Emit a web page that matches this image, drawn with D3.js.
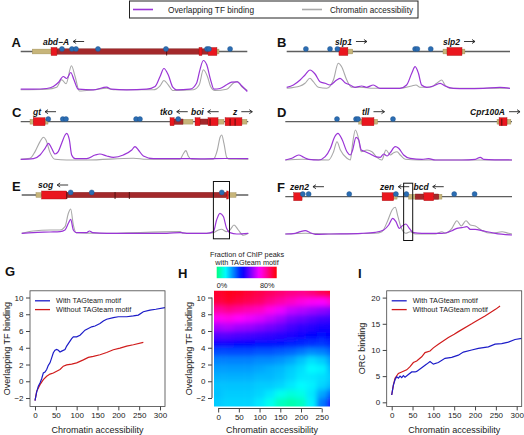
<!DOCTYPE html>
<html><head><meta charset="utf-8">
<script src="https://cdn.jsdelivr.net/npm/d3@7"></script>
<style>
body{margin:0;background:#fff}
svg{display:block;font-family:"Liberation Sans",Arial,Helvetica,sans-serif}
</style></head><body>
<svg id="c" width="524" height="435"></svg>
<script>
// ---------------- DATA ----------------
const legendLabels = ["Overlapping TF binding", "Chromatin accessibility"];

// Panel A (abd-A)
const aGenes = [["utr",5.1,13.7],["intron",16.0,82.7],["exon",13.4,16.0],["exon",78.7,80.0],["exon",82.7,86.6],["utr",86.6,87.5]];
const aTicks = [64.4];
const aSites = [18.2,22.6,24.4,34.1,64.1,82.2,83.1,92.4];
const aNames = [["abd\u2212A",9.8,-1]];
const aTF = [[0,1.3],[5.6,1.3],[11.5,2.0],[14.4,4.0],[16.6,8.0],[18.8,14.0],[20.3,12.0],[22.1,18.0],[23.5,10.7],[25.4,1.3],[32.1,0.7],[37.9,3.3],[40.1,1.3],[46.8,0.7],[55.6,1.3],[59.3,4.0],[61.5,14.0],[63.2,22.0],[65.1,15.7],[67.1,3.3],[68.8,0.7],[74.7,1.3],[77.6,7.3],[79.1,20.7],[80.6,30.0],[82.1,25.7],[83.8,10.7],[85.3,1.3],[87.9,2.0],[90.9,5.7],[93.1,8.3],[95.6,8.7],[97.5,4.7],[100,-1.0]];
const aAcc = [[0,0.7],[11.5,1.3],[15.9,3.3],[18.1,10.7],[20.0,6.7],[22.4,24.7],[24.0,14.0],[25.9,-0.5],[32.1,0.7],[37.9,2.3],[40.9,0.7],[58.5,0.7],[61.5,4.7],[63.2,10.0],[65.1,5.7],[67.1,0],[76.2,0.7],[78.8,5.7],[80.6,20.7],[82.4,14.0],[83.8,4.0],[85.7,0],[90.9,1.3],[93.8,7.3],[95.6,9.0],[97.5,4.0],[100,0]];

// Panel B (slp1, slp2)
const bGenes = [["exon",23.4,27.4],["utr",27.4,29.6],["utr",70.0,71.8],["exon",71.8,78.5],["utr",78.5,79.8]];
const bTicks = [];
const bSites = [8.6,19.4,22.7,57.5,58.5,64.5];
const bNames = [["slp1",21.6,1],["slp2",70.0,1]];
const bTF = [[0,2.7],[3.0,5.0],[6.0,10.0],[8.2,15.0],[10.4,20.0],[12.7,16.0],[14.9,8.3],[17.2,6.7],[19.4,5.0],[22.4,10.0],[23.9,11.7],[26.1,7.3],[28.4,5.0],[30.6,2.7],[33.6,4.0],[35.8,2.7],[38.8,5.0],[41.8,1.7],[50.7,1.7],[53.7,5.0],[56.0,16.7],[57.5,23.3],[59.0,16.7],[60.4,5.0],[62.7,2.7],[65.7,4.0],[68.7,6.7],[70.9,4.0],[74.6,1.7],[80.6,1.3],[88.1,1.7],[95.5,2.7],[100,1.7]];
const bAcc = [[0,1.7],[6.0,4.0],[8.2,6.7],[10.4,11.7],[11.9,8.3],[14.2,2.7],[17.9,1.7],[20.9,10.0],[23.1,26.7],[24.6,23.3],[26.9,10.0],[29.1,2.7],[32.8,2.7],[38.8,1.7],[50.7,1.7],[56.0,4.0],[57.9,5.0],[59.7,2.7],[64.2,2.7],[67.2,6.7],[69.4,10.0],[70.9,5.0],[73.1,1.7],[100,1.7]];

// Panel C (gt, tko, boi, z)
const cGenes = [["utr",4.1,5.5],["exon",5.5,10.7],["utr",10.7,12.0],["exon",65.6,67.4],["intron",67.4,71.3],["utr",71.3,75.7],["exon",76.6,78.8],["intron",78.8,82.3],["exon",82.3,86.7],["utr",86.7,89.3],["exon",89.8,97.2],["utr",97.2,99.4]];
const cTicks = [83.2,92.0,94.2];
const cSites = [12.1,18.5,19.9,50.7,52.4,69.2];
const cNames = [["gt",5.4,-1],["tko",61.2,-1],["boi",74.8,-1],["z",93.3,1]];
const cTF = [[0,0],[5.6,0.7],[8.5,4.3],[10.7,11.0],[12.2,16.0],[13.6,11.0],[15.1,5.3],[16.5,7.7],[18.0,16.0],[19.5,24.3],[20.2,26.0],[21.4,19.3],[22.4,4.3],[23.9,0.7],[29.0,0.7],[32.7,4.3],[34.8,5.3],[37.8,3.3],[40.7,2.0],[45.1,4.3],[48.8,9.3],[50.2,12.7],[51.7,9.3],[53.9,3.3],[58.3,0.7],[70,0.7],[80,0.5],[90,0.8],[100,0.7]];
const cAcc = [[0,0],[4.1,1.0],[6.3,7.7],[8.5,17.7],[10.0,22.0],[11.1,19.3],[12.9,6.7],[15.1,0],[20.2,-0.7],[29.0,-0.7],[49.5,1.0],[55.3,0],[70.0,0],[71.4,5.3],[72.6,8.7],[73.6,3.3],[75.1,0],[84.6,0],[86.4,9.3],[87.6,22.0],[88.3,24.3],[89.3,16.0],[90.5,2.0],[91.9,0],[100,0]];

// Panel D (tll, Cpr100A)
const dGenes = [["utr",32.4,33.8],["exon",33.8,39.1],["utr",39.1,40.7],["utr",93.4,94.3],["exon",94.3,97.8],["utr",97.8,99.5]];
const dTicks = [95.5];
const dSites = [22.8,31.2,32.1,47.5];
const dNames = [["tll",33.8,1],["Cpr100A",81.5,1]];
const dTF = [[0,0],[2.9,1.7],[5.9,5.0],[8.1,2.7],[10.3,0.7],[14.7,0],[17.6,3.3],[19.9,11.7],[21.8,23.3],[23.2,26.7],[25.0,20.7],[27.2,8.3],[28.7,5.0],[29.7,10.0],[31.2,22.7],[32.4,20.0],[33.5,10.0],[35.3,8.3],[37.5,6.0],[39.7,3.3],[41.9,2.7],[43.4,6.0],[44.9,4.0],[46.3,7.3],[48.5,13.3],[50.0,11.7],[52.2,5.0],[55.1,1.7],[60.3,0.7],[63.2,1.3],[66.2,0],[77.9,0],[83.8,0.7],[86.0,2.7],[87.5,0.7],[100,0]];
const dAcc = [[0,0],[7.4,0.7],[19.1,0],[21.3,8.3],[22.8,18.3],[24.3,10.0],[27.2,1.7],[28.7,0],[29.7,16.7],[30.9,30.0],[32.1,23.3],[33.5,8.3],[36.0,10.0],[38.2,8.3],[40.4,2.7],[42.6,0],[44.4,10.0],[46.3,5.0],[47.8,7.3],[49.3,8.3],[50.7,5.0],[52.9,0.7],[58.8,0],[100,0]];

// Panel E (sog)
const eGenes = [["utr",6.3,8.8],["intron",19.9,90.5],["exon",8.8,19.9],["exon",90.5,91.2],["utr",91.2,94.6]];
const eTicks = [19.9,41.2,47.5];
const eSites = [21.6,30.9,88.3];
const eNames = [["sog",7.2,-1]];
const eBox = [84.6,91.7];
const eTF = [[0,0],[5.1,0.7],[12.5,1.3],[16.9,1.7],[19.1,3.3],[20.6,10.0],[21.6,14.0],[22.8,3.3],[24.0,0.7],[28.7,0.7],[29.9,2.3],[31.3,0.7],[37.5,0],[64.0,0],[69.9,0.7],[72.8,0],[81.6,0],[84.6,1.7],[86.0,13.3],[87.5,20.0],[89.0,16.7],[90.4,5.0],[91.9,0.7],[94.9,-0.7],[100,0]];
const eAcc = [[0,0],[5.1,2.3],[12.5,3.3],[16.9,3.3],[19.1,6.7],[20.6,20.0],[21.6,24.3],[22.8,8.3],[24.0,0.7],[34.6,0],[69.9,1.7],[71.3,0],[81.6,0],[84.6,0.7],[86.8,3.3],[88.2,4.0],[90.4,1.7],[91.9,3.3],[93.7,8.3],[95.6,3.3],[97.8,-2.0],[100,0]];

// Panel F (zen2, zen, bcd)
const fGenes = [["exon",3.7,7.4],["exon",42.7,47.8],["utr",47.8,49.3],["utr",54.4,57.3],["intron",57.3,61.1],["exon",61.1,65.5],["intron",65.5,67.7],["utr",67.7,69.1]];
const fTicks = [];
const fSites = [7.7,10.3,28.2,48.8,53.4,74.5,83.5];
const fNames = [["zen2",2.1,-1],["zen",41.8,-1],["bcd",56.6,-1]];
const fBox = [52.2,56.2];
const fTF = [[0,1.0],[4.4,1.7],[6.6,3.3],[8.8,4.3],[11.0,2.3],[13.2,0.7],[19.1,1.0],[33.8,1.7],[39.7,2.7],[43.4,5.0],[45.6,10.0],[47.4,16.7],[48.8,13.3],[50.3,6.7],[51.5,9.0],[53.2,11.0],[54.7,6.7],[56.6,2.3],[60.3,1.7],[69.1,1.7],[73.5,4.3],[75.7,6.7],[77.9,7.3],[80.1,8.3],[81.6,5.7],[83.8,5.7],[86.8,4.3],[92.6,1.7],[100,0]];
const fAcc = [[0,1.0],[8.8,1.7],[19.1,1.0],[39.7,1.7],[42.6,3.3],[45.3,15.0],[47.1,25.0],[48.5,27.7],[49.7,18.3],[51.2,6.7],[53.2,1.7],[55.1,3.3],[57.4,1.0],[66.2,1.0],[69.1,3.3],[70.6,1.7],[73.5,6.7],[75.7,14.3],[77.6,9.0],[79.7,14.3],[81.6,10.0],[83.8,9.0],[86.8,4.3],[91.2,1.7],[95.6,3.3],[98.5,1.7],[100,1.0]];

// Panel G
const gBlueX = [0,4,8,12,16,20,24,28,32,36,40,44,48,52,56,60,64,72,76,84,88,92,100,108,116,120,128,136,144,156,164,172,188,200,212,220,236,248,260,276,290,312];
const gBlueY = [-2.3,-1.3,-0.6,-0.2,0.3,1.0,1.1,1.4,1.9,2.2,2.8,3.4,3.7,3.8,3.7,3.5,3.6,3.8,4.2,4.8,5.1,5.3,5.3,5.5,5.9,6.1,6.3,6.5,6.6,6.9,7.2,7.4,7.6,7.7,7.7,7.7,7.8,7.9,8.3,8.5,8.6,8.8];
const gRedX = [0,4,12,20,28,36,44,52,60,68,76,88,100,116,128,140,156,172,188,204,220,236,260];
const gRedY = [-2.3,-1.2,-0.4,0.2,0.6,0.86,0.98,1.2,1.4,1.8,1.95,2.05,2.2,2.55,2.85,2.97,3.17,3.44,3.76,3.96,4.2,4.36,4.65];
const gTicksX = [0,50,100,150,200,250,300];
const gTicksY = [-2,0,2,4,6,8,10];

// Panel H heatmap (fraction of ChIP peaks with TAGteam motif)
const hCols = [0,25,50,75,100,125,150,175,200,225,250,275];
const hRows = [10.5,9.5,8.5,7.5,6.5,5.5,4.5,3.5,2.5,1.5,0.5,-0.5,-1.5,-2.5];
const hVals = [
 [0.90,0.92,0.91,0.89,0.87,0.85,0.83,0.81,0.80,0.82,0.86,0.90],
 [0.88,0.90,0.88,0.86,0.84,0.80,0.77,0.74,0.71,0.69,0.68,0.72],
 [0.78,0.80,0.78,0.76,0.74,0.70,0.66,0.62,0.60,0.58,0.56,0.54],
 [0.69,0.70,0.68,0.66,0.64,0.61,0.58,0.54,0.52,0.50,0.48,0.47],
 [0.59,0.60,0.58,0.57,0.55,0.53,0.51,0.48,0.46,0.45,0.43,0.43],
 [0.50,0.50,0.49,0.48,0.47,0.46,0.45,0.44,0.42,0.41,0.40,0.41],
 [0.42,0.42,0.41,0.41,0.40,0.40,0.39,0.38,0.37,0.36,0.35,0.37],
 [0.33,0.33,0.33,0.33,0.32,0.32,0.31,0.30,0.28,0.26,0.27,0.30],
 [0.27,0.27,0.27,0.27,0.26,0.26,0.25,0.23,0.20,0.17,0.19,0.24],
 [0.24,0.24,0.24,0.24,0.23,0.22,0.21,0.19,0.17,0.14,0.15,0.21],
 [0.22,0.22,0.22,0.22,0.21,0.21,0.20,0.18,0.16,0.16,0.17,0.19],
 [0.20,0.20,0.20,0.20,0.19,0.19,0.18,0.16,0.14,0.15,0.18,0.21],
 [0.20,0.19,0.19,0.19,0.18,0.16,0.12,0.10,0.11,0.16,0.23,0.30],
 [0.19,0.18,0.18,0.18,0.16,0.12,0.07,0.05,0.07,0.15,0.28,0.42]
];
const hTicksX = [0,50,100,150,200,250];
const hTicksY = [-2,0,2,4,6,8,10];
const hBarLabels = [["0%",0],["80%",0.8]];

// Panel I
const iBlueX = [0,4,8,12,16,20,24,28,32,40,48,56,60,72,84,92,100,112,128,144,160,172,192,208,232,248,264,280,296,312];
const iBlueY = [1.4,3.3,4.3,4.9,4.6,5.0,4.7,5.1,4.8,5.3,5.8,5.8,5.9,6.6,7.3,7.8,7.3,7.6,8.4,8.6,9.0,9.6,10.0,10.3,10.6,11.1,11.2,11.5,12.0,12.2];
const iRedX = [0,4,8,16,24,36,44,52,60,72,80,92,100,112,136,150,160,192,200,224,250,260];
const iRedY = [1.4,3.3,4.6,5.5,5.8,6.2,6.8,7.6,7.9,8.7,9.5,9.8,10.4,11.1,12.4,13.0,13.5,15.0,15.4,16.5,17.8,18.4];
const iTicksX = [0,50,100,150,200,250,300];
const iTicksY = [0,5,10,15,20];
const lineLegend = ["With TAGteam motif","Without TAGteam motif"];

// ---------------- DRAWING ----------------
const svg = d3.select("#c");
const TXT = "#1a1a1a";
const PURPLE = "#9a35d6", GRAY = "#a8a8a8", BLUE = "#1c1cc8", RED = "#d01c1c";

// top legend
const lg = svg.append("g");
lg.append("rect").attr("x",129.5).attr("y",1).attr("width",288.5).attr("height",17).attr("fill","#fff").attr("stroke","#222").attr("stroke-width",1);
[[133,153,168,PURPLE,legendLabels[0],86],[302,322,330,GRAY,legendLabels[1],83]].forEach(d=>{
  lg.append("line").attr("x1",d[0]).attr("x2",d[1]).attr("y1",9.5).attr("y2",9.5).attr("stroke",d[3]).attr("stroke-width",1.6);
  lg.append("text").attr("x",d[2]).attr("y",12.8).attr("font-size",8.6).attr("fill",TXT)
    .attr("textLength",d[5]).attr("lengthAdjust","spacingAndGlyphs").text(d[4]);
});

function drawTrack(cfg, genes, ticks, sites, names, tf, acc, box){
  const g = svg.append("g");
  const x = d3.scaleLinear().domain([0,100]).range([cfg.x0,cfg.x1]);
  const y = d3.scaleLinear().domain([0,30]).range([cfg.baseY,cfg.baseY-30]);
  g.append("text").attr("x",cfg.lx).attr("y",cfg.lineY-4.5).attr("font-size",13).attr("font-weight","bold").attr("fill","#111").text(cfg.letter);
  g.append("line").attr("x1",x(0)).attr("x2",x(100)).attr("y1",cfg.lineY).attr("y2",cfg.lineY).attr("stroke","#5e5e5e").attr("stroke-width",1.3);
  const order={utr:0,intron:1,exon:2}, hh={utr:2.4,intron:2.7,exon:4};
  const fill={utr:"#c7b57a",intron:"#a3292b",exon:"#ea161e"}, strk={utr:"#9c8a55",intron:"#7a1a1a",exon:"#a01010"};
  g.selectAll("rect.gene").data(genes.slice().sort((a,b)=>order[a[0]]-order[b[0]])).join("rect")
    .attr("x",d=>x(d[1])).attr("width",d=>Math.max(0.8,x(d[2])-x(d[1])))
    .attr("y",d=>cfg.lineY-hh[d[0]]).attr("height",d=>2*hh[d[0]])
    .attr("fill",d=>fill[d[0]]).attr("stroke",d=>strk[d[0]]).attr("stroke-width",0.4);
  g.selectAll("line.tk").data(ticks).join("line")
    .attr("x1",d=>x(d)).attr("x2",d=>x(d)).attr("y1",cfg.lineY-3).attr("y2",cfg.lineY+4)
    .attr("stroke","#4a0c0c").attr("stroke-width",0.9);
  g.selectAll("circle").data(sites).join("circle")
    .attr("cx",d=>x(d)).attr("cy",cfg.lineY-2.6).attr("r",2.5)
    .attr("fill","#2b6db3").attr("stroke","#1d4f85").attr("stroke-width",0.4);
  names.forEach(n=>{
    const t = g.append("text").attr("x",x(n[1])).attr("y",cfg.lineY-7).attr("font-size",8.5)
      .attr("font-style","italic").attr("font-weight","bold").attr("fill","#111").text(n[0]);
    const w = t.node().getComputedTextLength();
    const a0 = x(n[1])+w+4, a1 = a0+11, ay = cfg.lineY-10;
    g.append("line").attr("x1",a0).attr("x2",a1).attr("y1",ay).attr("y2",ay).attr("stroke","#222").attr("stroke-width",0.9);
    const hx = n[2]<0 ? a0 : a1, dx = n[2]<0 ? 3 : -3;
    g.append("path").attr("d",`M${hx+dx},${ay-2}L${hx},${ay}L${hx+dx},${ay+2}`).attr("fill","none").attr("stroke","#222").attr("stroke-width",0.9);
  });
  const ln = d3.line().x(d=>x(d[0])).y(d=>y(d[1])).curve(d3.curveMonotoneX);
  g.append("path").attr("d",ln(acc)).attr("fill","none").attr("stroke",GRAY).attr("stroke-width",1.1);
  g.append("path").attr("d",ln(tf)).attr("fill","none").attr("stroke",PURPLE).attr("stroke-width",1.2);
  if(box){
    g.append("rect").attr("x",x(box[0])).attr("width",x(box[1])-x(box[0]))
      .attr("y",cfg.lineY-13.5).attr("height",(cfg.baseY+5.5)-(cfg.lineY-13.5))
      .attr("fill","none").attr("stroke","#111").attr("stroke-width",1);
  }
}

drawTrack({letter:"A",lx:11.5,x0:20.7,x1:247.3,lineY:51.5,baseY:90.5},aGenes,aTicks,aSites,aNames,aTF,aAcc);
drawTrack({letter:"B",lx:277,x0:286.7,x1:510,lineY:51.5,baseY:90},bGenes,bTicks,bSites,bNames,bTF,bAcc);
drawTrack({letter:"C",lx:12,x0:20.7,x1:248.3,lineY:121.7,baseY:159.3},cGenes,cTicks,cSites,cNames,cTF,cAcc);
drawTrack({letter:"D",lx:277,x0:285.3,x1:512,lineY:121.7,baseY:160},dGenes,dTicks,dSites,dNames,dTF,dAcc);
drawTrack({letter:"E",lx:12,x0:21.7,x1:248.3,lineY:195,baseY:233.3},eGenes,eTicks,eSites,eNames,eTF,eAcc,eBox);
drawTrack({letter:"F",lx:277,x0:285.3,x1:512,lineY:196.7,baseY:235},fGenes,fTicks,fSites,fNames,fTF,fAcc,fBox);

// -------- line plots G & I --------
function styleAxis(a){
  a.select(".domain").remove();
  a.selectAll(".tick line").attr("stroke","#444");
  a.selectAll(".tick text").attr("fill",TXT).attr("font-size",8).attr("font-family",'"Liberation Sans",Arial,sans-serif');
}
function linePlot(o){
  const g = svg.append("g");
  const x = d3.scaleLinear().domain([-12,312]).range([o.L,o.L+135]);
  const y = d3.scaleLinear().domain(o.yd).range([406.4,290.8]);
  const cid = "clip"+o.letter;
  g.append("clipPath").attr("id",cid).append("rect").attr("x",o.L).attr("y",290.8).attr("width",135).attr("height",115.6);
  const lines = g.append("g").attr("clip-path",`url(#${cid})`);
  const ln = d3.line().x(d=>x(d[0])).y(d=>y(d[1]));
  lines.append("path").attr("d",ln(o.rx.map((v,i)=>[v,o.ry[i]]))).attr("fill","none").attr("stroke",RED).attr("stroke-width",1.2);
  lines.append("path").attr("d",ln(o.bx.map((v,i)=>[v,o.by[i]]))).attr("fill","none").attr("stroke",BLUE).attr("stroke-width",1.2);
  g.append("rect").attr("x",o.L).attr("y",290.8).attr("width",135).attr("height",115.6).attr("fill","none").attr("stroke","#444").attr("stroke-width",0.8);
  styleAxis(g.append("g").attr("transform","translate(0,406.4)").call(d3.axisBottom(x).tickValues(o.tx).tickSize(4).tickPadding(2)));
  styleAxis(g.append("g").attr("transform",`translate(${o.L},0)`).call(d3.axisLeft(y).tickValues(o.ty).tickSize(4).tickPadding(2.5)));
  g.append("text").attr("x",o.L+67.5).attr("y",432.5).attr("text-anchor","middle").attr("font-size",9).attr("fill",TXT).text("Chromatin accessibility");
  g.append("text").attr("transform",`translate(${o.ylx},348.6) rotate(-90)`).attr("text-anchor","middle").attr("font-size",9).attr("fill",TXT).text(o.ylab);
  g.append("text").attr("x",o.lx).attr("y",o.ly).attr("font-size",13).attr("font-weight","bold").attr("fill","#111").text(o.letter);
  [[BLUE,lineLegend[0],300.8],[RED,lineLegend[1],309.6]].forEach(d=>{
    g.append("line").attr("x1",o.L+5).attr("x2",o.L+20).attr("y1",d[2]).attr("y2",d[2]).attr("stroke",d[0]).attr("stroke-width",1.3);
    g.append("text").attr("x",o.L+26).attr("y",d[2]+2.5).attr("font-size",7.3).attr("fill",TXT).text(d[1]);
  });
}
linePlot({letter:"G",lx:5,ly:276,L:30,yd:[-3.0,10.8],bx:gBlueX,by:gBlueY,rx:gRedX,ry:gRedY,tx:gTicksX,ty:gTicksY,ylab:"Overlapping TF binding",ylx:9.5});
linePlot({letter:"I",lx:358,ly:278,L:386.7,yd:[-0.78,21.3],bx:iBlueX,by:iBlueY,rx:iRedX,ry:iRedY,tx:iTicksX,ty:iTicksY,ylab:"ORC binding",ylx:364.5});

// -------- heatmap H --------
const hx = d3.scaleLinear().domain([-10,270]).range([214,330]);
const hy = d3.scaleLinear().domain([-3.0,10.8]).range([406.4,290.8]);
const hueOf = v => 150 + 210*Math.min(Math.max(v/0.95,0),1);
const hColor = v => d3.hsl(hueOf(v),1,0.5).formatHex();
const H = svg.append("g");
const defs = svg.append("defs");
defs.append("filter").attr("id","hblur").attr("filterUnits","userSpaceOnUse")
  .attr("x",150).attr("y",240).attr("width",250).attr("height",220)
  .append("feGaussianBlur").attr("stdDeviation",2.4);
defs.append("clipPath").attr("id","hclip").append("rect")
  .attr("x",hx(-10)).attr("y",hy(10.8)).attr("width",hx(270)-hx(-10)).attr("height",hy(-3.0)-hy(10.8));
const cells = [];
hRows.forEach((r,i)=>hCols.forEach((c,j)=>cells.push({r,c,v:hVals[i][j],i,j})));
const nR = hRows.length, nC = hCols.length;
H.append("g").attr("clip-path","url(#hclip)").append("g").attr("filter","url(#hblur)")
  .selectAll("rect").data(cells).join("rect")
  .attr("x",d=>hx(d.c-12.5)-(d.j===0?12:0))
  .attr("width",d=>hx(d.c+12.5)-hx(d.c-12.5)+(d.j===0?12:0)+(d.j===nC-1?12:0)+0.5)
  .attr("y",d=>hy(d.r+0.5)-(d.i===0?12:0))
  .attr("height",d=>hy(d.r-0.5)-hy(d.r+0.5)+(d.i===0?12:0)+(d.i===nR-1?12:0)+0.5)
  .attr("fill",d=>hColor(d.v));
// axes with R-style domain lines
const hxa = H.append("g").attr("transform","translate(0,408.5)").call(d3.axisBottom(hx).tickValues(hTicksX).tickSize(4).tickPadding(2));
styleAxis(hxa);
hxa.append("line").attr("x1",hx(0)).attr("x2",hx(250)).attr("stroke","#444");
const hya = H.append("g").attr("transform","translate(212,0)").call(d3.axisLeft(hy).tickValues(hTicksY).tickSize(4).tickPadding(2.5));
styleAxis(hya);
hya.append("line").attr("y1",hy(-2)).attr("y2",hy(10)).attr("stroke","#444");
H.append("text").attr("x",272).attr("y",432.5).attr("text-anchor","middle").attr("font-size",9).attr("fill",TXT).text("Chromatin accessibility");
H.append("text").attr("transform","translate(191.5,348.6) rotate(-90)").attr("text-anchor","middle").attr("font-size",9).attr("fill",TXT).text("Overlapping TF binding");
H.append("text").attr("x",178).attr("y",278).attr("font-size",13).attr("font-weight","bold").attr("fill","#111").text("H");
// colour bar
const bx = d3.scaleLinear().domain([0,0.95]).range([216.7,276.7]);
const grad = defs.append("linearGradient").attr("id","hgrad").attr("x1","0%").attr("x2","100%").attr("y1","0%").attr("y2","0%");
d3.range(0,1.0001,0.05).forEach(t=>grad.append("stop").attr("offset",(t*100)+"%").attr("stop-color",hColor(t*0.95)));
H.append("rect").attr("x",bx(0)).attr("y",266.7).attr("width",bx(0.95)-bx(0)).attr("height",11.5).attr("fill","url(#hgrad)");
H.append("text").attr("x",247).attr("y",256.5).attr("text-anchor","middle").attr("font-size",7.3).attr("fill",TXT).text("Fraction of ChIP peaks");
H.append("text").attr("x",247).attr("y",264.5).attr("text-anchor","middle").attr("font-size",7.3).attr("fill",TXT).text("with TAGteam motif");
hBarLabels.forEach(d=>{
  H.append("text").attr("x",d[1]===0?bx(0):bx(d[1])).attr("y",288).attr("text-anchor",d[1]===0?"start":"middle")
   .attr("font-size",7.3).attr("fill",TXT).text(d[0]);
});
</script>
</body></html>
